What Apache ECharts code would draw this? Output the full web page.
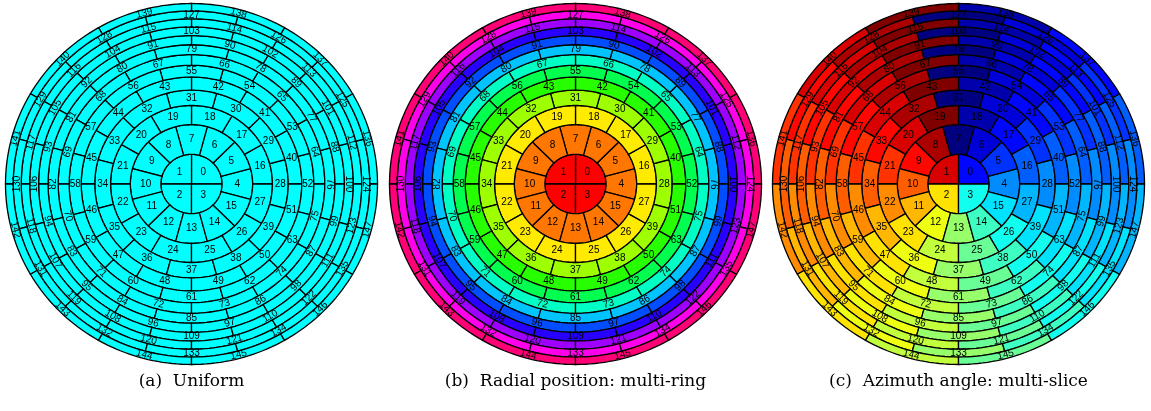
<!DOCTYPE html>
<html>
<head>
<meta charset="utf-8">
<script src="https://cdn.jsdelivr.net/npm/echarts@6/dist/echarts.min.js"></script>
<style>
html,body{margin:0;padding:0;background:#ffffff;}
#chart{width:1151px;height:411px;}
</style>
</head>
<body>
<div id="chart"></div>
<script>
// Cells per ring, from the centre outwards (equal-area cells)
const ringCells = [4, 12, 12, 12, 12, 12, 12, 12, 12, 12, 12, 12, 12];
// Angle (deg, counter-clockwise from east) where the first cell of each ring starts
const ringStart = [0, -15, 0, -15, 0, -15, 0, -15, 0, -15, 0, -15, 0];
// Rings from this index outwards carry tangential labels
const tangentFromRing = 6;
// Panel captions
const panelTitles = ['(a)  Uniform', '(b)  Radial position: multi-ring', '(c)  Azimuth angle: multi-slice'];
// Colouring mode per panel
const panelModes = ['uniform', 'ring', 'azimuth'];
const uniformColor = '#00ffff';

// Layout of the three discs (pixels); the discs are drawn slightly wider than tall
const panelCenterX = [191.5, 575.5, 958.5];
const panelCenterY = 184;
const panelRadiusX = 186;
const panelRadiusY = 180.5;

const totalCells = ringCells.reduce((a, b) => a + b, 0);

// Build the cell table: ring, radii (unit disc), angle span, id
const cells = [];
(function () {
  let cum = 0, id = 0;
  ringCells.forEach((n, k) => {
    const rIn = Math.sqrt(cum / totalCells);
    cum += n;
    const rOut = Math.sqrt(cum / totalCells);
    const step = 360 / n;
    for (let j = 0; j < n; j++) {
      const a0 = ringStart[k] + j * step;
      cells.push({ id: id++, ring: k, rIn, rOut, a0, a1: a0 + step });
    }
  });
})();

function hsv(h) {
  const i = Math.floor(h * 6), f = h * 6 - i;
  const q = 1 - f, t = f;
  const m = [[1, t, 0], [q, 1, 0], [0, 1, t], [0, q, 1], [t, 0, 1], [1, 0, q]][i % 6];
  return 'rgb(' + m.map(v => Math.round(v * 255)).join(',') + ')';
}
function jet(v) {
  const c = x => Math.max(0, Math.min(1, x));
  const r = c(Math.min(4 * v - 1.5, -4 * v + 4.5));
  const g = c(Math.min(4 * v - 0.5, -4 * v + 3.5));
  const b = c(Math.min(4 * v + 0.5, -4 * v + 2.5));
  return 'rgb(' + [r, g, b].map(x => Math.round(x * 255)).join(',') + ')';
}
function azimuthCW(cell) {
  const mid = (cell.a0 + cell.a1) / 2;
  return (((90 - mid) % 360) + 360) % 360;
}
const maxAzimuth = Math.max(...cells.map(azimuthCW));
function cellColor(mode, cell) {
  if (mode === 'uniform') return uniformColor;
  if (mode === 'ring') return hsv(cell.ring / ringCells.length);
  return jet(azimuthCW(cell) / maxAzimuth);
}

const grids = [], xAxes = [], yAxes = [], series = [];
panelModes.forEach((mode, p) => {
  grids.push({
    left: panelCenterX[p] - panelRadiusX, top: panelCenterY - panelRadiusY,
    width: 2 * panelRadiusX, height: 2 * panelRadiusY
  });
  xAxes.push({ gridIndex: p, type: 'value', min: -1, max: 1, show: false });
  yAxes.push({ gridIndex: p, type: 'value', min: -1, max: 1, show: false });
  series.push({
    type: 'custom',
    xAxisIndex: p, yAxisIndex: p,
    data: cells.map(c => [c.id, c.ring, c.rIn, c.rOut, c.a0, c.a1]),
    renderItem: function (params, api) {
      const c = cells[params.dataIndex];
      const pt = (r, a) => api.coord([r * Math.cos(a * Math.PI / 180), r * Math.sin(a * Math.PI / 180)]);
      const pts = [];
      const nSeg = Math.max(8, Math.round((c.a1 - c.a0) / 1.5));
      for (let s = 0; s <= nSeg; s++) pts.push(pt(c.rOut, c.a0 + (c.a1 - c.a0) * s / nSeg));
      if (c.rIn > 0) {
        for (let s = nSeg; s >= 0; s--) pts.push(pt(c.rIn, c.a0 + (c.a1 - c.a0) * s / nSeg));
      } else {
        pts.push(pt(0, 0));
      }
      const mid = (c.a0 + c.a1) / 2;
      const rMid = c.rIn > 0 ? (c.rIn + c.rOut) / 2 : c.rOut * 0.55;
      const lp = pt(rMid, mid);
      let rot = 0;
      if (c.ring >= tangentFromRing) {
        rot = mid - 90;
        while (rot > 180) rot -= 360;
        while (rot <= -180) rot += 360;
        if (rot > 90) rot -= 180;
        if (rot < -90) rot += 180;
      }
      return {
        type: 'group',
        children: [
          {
            type: 'polygon',
            shape: { points: pts },
            style: { fill: cellColor(mode, c), stroke: '#000', lineWidth: 1.3 }
          },
          {
            type: 'text',
            x: lp[0], y: lp[1],
            rotation: rot * Math.PI / 180,
            style: {
              text: String(c.id), fill: '#000',
              font: '10px "Liberation Sans", Arial, sans-serif',
              align: 'center', verticalAlign: 'middle'
            },
            z2: 10
          }
        ]
      };
    }
  });
});

const chart = echarts.init(document.getElementById('chart'), null, { renderer: 'canvas' });
chart.setOption({
  animation: false,
  grid: grids,
  xAxis: xAxes,
  yAxis: yAxes,
  series: series,
  graphic: panelTitles.map((t, p) => ({
    type: 'text',
    x: panelCenterX[p], y: 382,
    style: {
      text: t, fill: '#000',
      font: '17px "DejaVu Serif", serif',
      align: 'center', verticalAlign: 'middle'
    }
  }))
});
</script>
</body>
</html>
